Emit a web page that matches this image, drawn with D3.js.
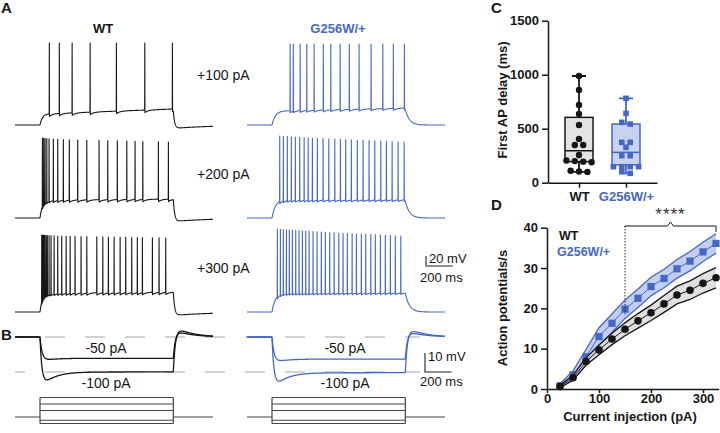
<!DOCTYPE html>
<html><head><meta charset="utf-8">
<script src="https://cdn.jsdelivr.net/npm/d3@7"></script>
<style>
body{margin:0;background:#fff}
svg{display:block;font-family:"Liberation Sans",Arial,Helvetica,sans-serif}
</style></head><body>
<svg id="fig" width="720" height="433"></svg>
<script>
// ================= DATA =================
const groups = ["WT", "G256W/+"];
const stepLabels = ["+100 pA", "+200 pA", "+300 pA"];
const hyperLabels = ["-50 pA", "-100 pA"];
const stimLevels = [300, 200, 100, -50, -100];          // pA

// panel A: spike times (ms from trace start)
const spikesWT100 = [257, 332, 428, 563, 760, 973, 1180];
const spikesWT200 = [205, 215, 225, 238, 255, 287, 320, 362, 407, 470, 538, 630, 695, 767, 838, 900, 958, 1075, 1150];
const spikesWT300 = [200, 208, 215, 223, 233, 242, 255, 270, 293, 320, 350, 383, 413, 450, 495, 538, 613, 658, 700, 743, 788, 830, 875, 917, 955, 1030, 1080, 1130];
const spikesG100 = [323, 347, 398, 448, 503, 572, 628, 698, 767, 840, 930, 1018, 1097, 1180];
const spikesG200 = [245, 272, 302, 332, 362, 395, 428, 458, 490, 527, 570, 613, 658, 700, 740, 782, 827, 870, 915, 958, 1003, 1045, 1088, 1133, 1178];
const spikesG300 = [227, 250, 272, 295, 317, 340, 365, 390, 415, 440, 465, 495, 525, 557, 587, 620, 653, 688, 720, 752, 788, 820, 857, 890, 928, 962, 1000, 1037, 1075, 1112, 1153];
// plateau potential (mV) at step start / end, spike peak (mV) first / last
const plateauWT = [[-48, -38], [-34, -32], [-32, -30]];
const peakWT = [[94, 94], [90, 82], [84, 78]];
const plateauG = [[-42, -36], [-34, -33], [-32, -31]];
const peakG = [[92, 92], [94, 82], [96, 82]];

// panel B: hyperpolarising steps (mV from rest)
const hyperSS_WT = [-11.2, -18.4];
const hyperSag_WT = [-1.5, -9];
const hyperOver_WT = [4, 6];
const hyperSS_G = [-11.6, -18.8];
const hyperSag_G = [-2, -9.5];
const hyperOver_G = [3.5, 5.5];

// panel C: first AP delay (ms)
const delayWT = [988, 858, 720, 636, 534, 405, 349, 349, 256, 205, 200, 195, 190, 110, 104, 100];
const delayG = [781, 642, 559, 543, 374, 374, 328, 250, 250, 148, 148, 148, 148, 102, 87];
const boxStatsWT = [100, 195, 296, 605, 988];   // min, q1, median, q3, max
const boxStatsG = [87, 165, 281, 543, 781];

// panel D: AP frequency vs current
const currents = [25, 50, 75, 100, 125, 150, 175, 200, 225, 250, 275, 300, 325];
const apWT = [0.6, 2.8, 6.8, 9.7, 12.4, 14.8, 16.9, 18.9, 21.1, 23.3, 24.5, 26.2, 27.6];
const semWT = [0.3, 0.6, 0.9, 1.2, 1.4, 1.6, 1.8, 1.9, 2.1, 2.2, 2.3, 2.4, 2.5];
const apG = [0.8, 3.5, 8.0, 13.0, 16.3, 19.8, 22.5, 25.4, 27.4, 29.8, 31.7, 34.0, 36.1];
const semG = [0.5, 1.0, 1.8, 2.2, 2.3, 2.3, 2.3, 2.3, 2.3, 2.3, 2.4, 2.4, 2.4];
const sigRange = [150, 325];
const sigLabel = "****";

// ================= DRAWING =================
const BLACK = "#161616", BLUE = "#4568c4", LBLUE = "#c8d2f0", BANDBLUE = "#b9c6ee", LGRAY = "#e3e3e3", BANDGRAY = "#dadada";
const svg = d3.select("#fig");

function txt(g, s, x, y, o = {}) {
  return g.append("text").attr("x", x).attr("y", y).text(s)
    .attr("font-size", o.size || 13).attr("font-weight", o.bold ? "bold" : "normal")
    .attr("fill", o.fill || BLACK).attr("text-anchor", o.anchor || "start");
}

// panel letters
[["A", 1, 13], ["B", 1, 340], ["C", 491, 13], ["D", 491, 210]].forEach(d => txt(svg, d[0], d[1], d[2], {size: 15, bold: true}));

// ---------- shared trace timing ----------
const traceDur = 1485, stepOn = 187.5, stepOff = 1187.5, restV = -70;
const xTrace = [d3.scaleLinear().domain([0, traceDur]).range([15, 213]),
                d3.scaleLinear().domain([0, traceDur]).range([247, 445])];
const colors = [BLACK, BLUE];

function spikeTrace(spikes, plat, peak, p) {
  const base = t => {
    if (t < stepOn) return restV;
    const f = Math.min((t - stepOn) / (stepOff - stepOn), 1);
    const target = plat[0] + (plat[1] - plat[0]) * f;
    return restV + (target - restV) * (1 - Math.exp(-(t - stepOn) / p.tauOn));
  };
  const sub = t => {
    if (t > stepOff) {
      const vEnd = sub(stepOff), d = t - stepOff;
      return restV + (vEnd - restV) * Math.exp(-d / p.tauOff) - p.under * (1 - Math.exp(-d / p.tauOff)) * Math.exp(-d / 300);
    }
    let last = null;
    for (const s of spikes) { if (s + 1.5 <= t) last = s; else break; }
    let v = base(t);
    if (last !== null) v -= p.ahp * Math.exp(-(t - last - 1.5) / 25);
    return v;
  };
  const pts = [];
  d3.range(0, traceDur + 0.01, 1.5).forEach(t => {
    if (!spikes.some(s => t > s - 0.5 && t < s + 1.5)) pts.push([t, sub(t)]);
  });
  spikes.forEach((s, i) => {
    const pk = peak[0] + (peak[1] - peak[0]) * (spikes.length > 1 ? i / (spikes.length - 1) : 0);
    pts.push([s - 0.5, sub(s - 0.5)], [s + 0.5, pk], [s + 1.5, sub(s + 1.5)]);
  });
  return pts.sort((a, b) => a[0] - b[0]);
}

// ---------- Panel A ----------
const gA = svg.append("g");
txt(gA, groups[0], 103, 33, {bold: true, anchor: "middle"});
txt(gA, groups[1], 338, 33, {bold: true, anchor: "middle", fill: BLUE});
const rowBase = [125, 218, 312];
const spikeSets = [[spikesWT100, spikesWT200, spikesWT300], [spikesG100, spikesG200, spikesG300]];
const plats = [plateauWT, plateauG], peaks = [peakWT, peakG];
const params = [{tauOn: 18, tauOff: 10, under: 7, ahp: 5}, {tauOn: 25, tauOff: 30, under: 0, ahp: 4}];
rowBase.forEach((b, r) => {
  const yA = d3.scaleLinear().domain([restV, restV + 100]).range([b, b - 50]);
  [0, 1].forEach(gi => {
    const pts = spikeTrace(spikeSets[gi][r], plats[gi][r], peaks[gi][r], params[gi]);
    gA.append("path").attr("d", d3.line().x(d => xTrace[gi](d[0])).y(d => yA(d[1]))(pts))
      .attr("fill", "none").attr("stroke", colors[gi]).attr("stroke-width", 1.1).attr("stroke-linejoin", "round");
  });
  txt(gA, stepLabels[r], 197, [80, 179, 273][r], {size: 14});
  if (r === 2) {
    // scale bar 20 mV / 200 ms
    const x0 = 426, yb = 266;
    const yLen = yA(restV) - yA(restV + 20);
    const xLen = xTrace[1](200) - xTrace[1](0);
    gA.append("path").attr("d", `M${x0},${yb - yLen}V${yb}H${x0 + xLen}`).attr("fill", "none").attr("stroke", "#222").attr("stroke-width", 1.1);
    txt(gA, "20 mV", x0 + 3, 263, {size: 13});
    txt(gA, "200 ms", 420, 282, {size: 13});
  }
});

// ---------- Panel B ----------
const gB = svg.append("g");
const yB = d3.scaleLinear().domain([0, -10]).range([337, 356]);
[0, hyperSS_WT[1]].forEach(v => {
  gB.append("line").attr("x1", 15).attr("x2", 420).attr("y1", yB(v)).attr("y2", yB(v))
    .attr("stroke", "#c4c4c4").attr("stroke-width", 1.4).attr("stroke-dasharray", "20,20").attr("stroke-dashoffset", -30);
});
function subTrace(ss, sag, over, tauM) {
  return d3.range(0, traceDur + 0.01, 2).map(t => {
    let v;
    if (t < stepOn) v = 0;
    else if (t <= stepOff) { const d = t - stepOn; v = (ss + sag * Math.exp(-d / 90)) * (1 - Math.exp(-d / tauM)); }
    else { const d = t - stepOff; v = ss * Math.exp(-d / tauM) + over * (1 - Math.exp(-d / tauM)) * Math.exp(-d / 120); }
    return [t, v];
  });
}
const hyper = [[hyperSS_WT, hyperSag_WT, hyperOver_WT], [hyperSS_G, hyperSag_G, hyperOver_G]];
[0, 1].forEach(gi => {
  [0, 1].forEach(k => {
    const pts = subTrace(hyper[gi][0][k], hyper[gi][1][k], hyper[gi][2][k], 16);
    gB.append("path").attr("d", d3.line().x(d => xTrace[gi](d[0])).y(d => yB(d[1]))(pts))
      .attr("fill", "none").attr("stroke", colors[gi]).attr("stroke-width", 1.3);
  });
  const cx = gi === 0 ? 106 : 345;
  txt(gB, hyperLabels[0], cx, 353, {size: 14, anchor: "middle"});
  txt(gB, hyperLabels[1], cx, 388, {size: 14, anchor: "middle"});
});
{
  const x0 = 425, yb = 372;
  const yLen = yB(-10) - yB(0);
  const xLen = xTrace[1](200) - xTrace[1](0);
  gB.append("path").attr("d", `M${x0},${yb - yLen}V${yb}H${x0 + xLen}`).attr("fill", "none").attr("stroke", "#222").attr("stroke-width", 1.1);
  txt(gB, "10 mV", 428, 361, {size: 13});
  txt(gB, "200 ms", 420, 386, {size: 13});
}
// stimulus protocol
const yS = d3.scaleLinear().domain([0, 300]).range([417, 397.5]);
[0, 1].forEach(gi => {
  const x = xTrace[gi];
  const g = gB.append("g").attr("stroke", "#444").attr("stroke-width", 1.2).attr("fill", "none");
  g.append("path").attr("d", `M${x(0)},${yS(0)}H${x(stepOn)}M${x(stepOff)},${yS(0)}H${x(traceDur)}`);
  g.append("path").attr("d", `M${x(stepOn)},${yS(d3.max(stimLevels))}V${yS(d3.min(stimLevels))}M${x(stepOff)},${yS(d3.max(stimLevels))}V${yS(d3.min(stimLevels))}`);
  stimLevels.forEach(l => g.append("line").attr("x1", x(stepOn)).attr("x2", x(stepOff)).attr("y1", yS(l)).attr("y2", yS(l)));
});

// ---------- Panel C ----------
const gC = svg.append("g");
const yC = d3.scaleLinear().domain([0, 1500]).range([182.7, 20.7]);
const xC = d3.scalePoint().domain(groups).range([548, 657]).padding(0.66);
function styleAxis(g) {
  g.selectAll("path,line").attr("stroke", BLACK).attr("stroke-width", 1.5);
  g.selectAll("text").attr("font-size", 13).attr("font-weight", "bold").attr("fill", BLACK)
    .attr("font-family", '"Liberation Sans", Arial, sans-serif');
}
gC.append("g").attr("transform", "translate(548,0)")
  .call(d3.axisLeft(yC).tickValues([0, 500, 1000, 1500]).tickFormat(d3.format("d")).tickSize(6).tickSizeOuter(0).tickPadding(3)).call(styleAxis);
const axC = gC.append("g").attr("transform", "translate(0,182.7)")
  .call(d3.axisBottom(xC).tickSize(5).tickSizeOuter(0).tickPadding(4)).call(styleAxis);
axC.selectAll("text").attr("fill", (d, i) => colors[i]);
gC.append("text").attr("transform", "translate(507,100) rotate(-90)").attr("text-anchor", "middle")
  .attr("font-size", 13).attr("font-weight", "bold").attr("fill", BLACK).text("First AP delay (ms)");

// row-based dot layout: values within a few px share a row, centred on the category
function rows(values, y, cx, d) {
  const pts = values.map(v => ({v, y: y(v)})).sort((a, b) => a.y - b.y);
  const out = [];
  let cur = [];
  const flush = () => { cur.forEach((p, i) => out.push({x: cx + (i - (cur.length - 1) / 2) * d, y: p.y})); cur = []; };
  pts.forEach(p => { if (cur.length && p.y - cur[cur.length - 1].y >= 4) flush(); cur.push(p); });
  flush();
  return out;
}
const boxes = [boxStatsWT, boxStatsG], fills = [LGRAY, LBLUE], delays = [delayWT, delayG];
groups.forEach((gname, gi) => {
  const cx = xC(gname), st = boxes[gi], hw = 14, col = colors[gi];
  const g = gC.append("g");
  g.append("path").attr("d", `M${cx},${yC(st[0])}V${yC(st[1])}M${cx},${yC(st[3])}V${yC(st[4])}M${cx - 7},${yC(st[4])}H${cx + 7}M${cx - 7},${yC(st[0])}H${cx + 7}`)
    .attr("stroke", col).attr("stroke-width", 1.8).attr("fill", "none");
  g.append("rect").attr("x", cx - hw).attr("y", yC(st[3])).attr("width", 2 * hw).attr("height", yC(st[1]) - yC(st[3]))
    .attr("fill", fills[gi]).attr("stroke", col).attr("stroke-width", 1.5);
  g.append("line").attr("x1", cx - hw).attr("x2", cx + hw).attr("y1", yC(st[2])).attr("y2", yC(st[2])).attr("stroke", col).attr("stroke-width", 1.5);
  const pts = rows(delays[gi], yC, cx, 8.4);
  if (gi === 0) g.selectAll("circle").data(pts).join("circle").attr("cx", d => d.x).attr("cy", d => d.y).attr("r", 3.2).attr("fill", col);
  else g.selectAll("rect.pt").data(pts).join("rect").attr("class", "pt").attr("x", d => d.x - 2.8).attr("y", d => d.y - 2.8).attr("width", 5.6).attr("height", 5.6).attr("fill", col);
});

// ---------- Panel D ----------
const gD = svg.append("g");
const xD = d3.scaleLinear().domain([0, 330]).range([547, 718.6]);
const yD = d3.scaleLinear().domain([0, 40]).range([389, 227.7]);
gD.append("g").attr("transform", "translate(547,0)")
  .call(d3.axisLeft(yD).tickValues([0, 10, 20, 30, 40]).tickSize(6).tickSizeOuter(0).tickPadding(3)).call(styleAxis);
gD.append("g").attr("transform", "translate(0,389)")
  .call(d3.axisBottom(xD).tickValues([0, 100, 200, 300]).tickSize(4).tickSizeOuter(0).tickPadding(1)).call(styleAxis);
gD.append("text").attr("transform", "translate(507,308) rotate(-90)").attr("text-anchor", "middle")
  .attr("font-size", 13).attr("font-weight", "bold").attr("fill", BLACK).text("Action potentials/s");
txt(gD, "Current injection (pA)", 630, 421, {bold: true, anchor: "middle"});

const series = [[apG, semG, BLUE, BANDBLUE, "sq"], [apWT, semWT, BLACK, BANDGRAY, "ci"]];
series.forEach(([m, s, col, band, shape]) => {
  const idx = d3.range(currents.length);
  gD.append("path").attr("d", d3.area().x(i => xD(currents[i])).y0(i => yD(m[i] - s[i])).y1(i => yD(m[i] + s[i]))(idx))
    .attr("fill", band).attr("opacity", 0.85);
  [1, -1].forEach(sg => gD.append("path").attr("d", d3.line().x(i => xD(currents[i])).y(i => yD(m[i] + sg * s[i]))(idx))
    .attr("fill", "none").attr("stroke", col).attr("stroke-width", 1.3));
  gD.append("path").attr("d", d3.line().x(i => xD(currents[i])).y(i => yD(m[i]))(idx))
    .attr("fill", "none").attr("stroke", col).attr("stroke-width", 1);
  if (shape === "ci") gD.selectAll(null).data(idx).join("circle").attr("cx", i => xD(currents[i])).attr("cy", i => yD(m[i])).attr("r", 3.8).attr("fill", col);
  else gD.selectAll(null).data(idx).join("rect").attr("x", i => xD(currents[i]) - 3.6).attr("y", i => yD(m[i]) - 3.6).attr("width", 7.2).attr("height", 7.2).attr("fill", col);
});
txt(gD, groups[0], 559, 240, {bold: true, size: 12.5});
txt(gD, groups[1], 557, 256, {bold: true, size: 12.5, fill: BLUE});
{
  const xa = xD(sigRange[0]), xb = xD(sigRange[1]), xm = (xa + xb) / 2, yb = 226;
  gD.append("line").attr("x1", xa).attr("x2", xa).attr("y1", yb).attr("y2", yD(18.5))
    .attr("stroke", BLACK).attr("stroke-width", 0.9).attr("stroke-dasharray", "1.5,1.5");
  gD.append("path").attr("d", `M${xa},${yb + 1}V${yb}H${xm - 3}L${xm},${yb - 4}L${xm + 3},${yb}H${xb}V${yb + 6}`)
    .attr("fill", "none").attr("stroke", BLACK).attr("stroke-width", 1);
  txt(gD, sigLabel, xm, 220, {size: 17, anchor: "middle", fill: "#333"}).attr("letter-spacing", 1);
}
</script>
</body></html>
